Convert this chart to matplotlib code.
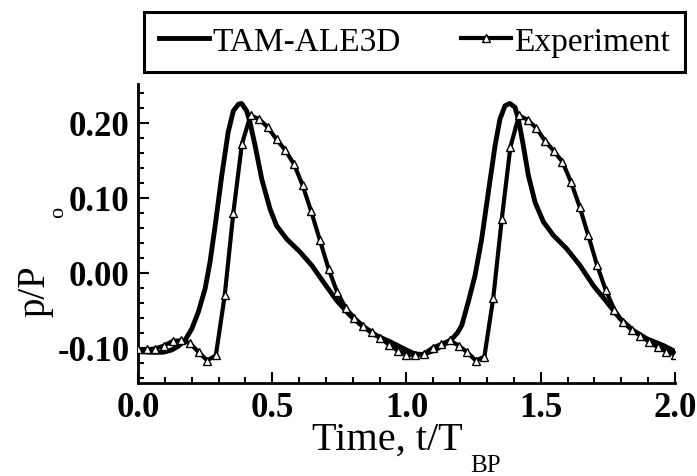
import matplotlib
matplotlib.use('Agg')
import matplotlib.pyplot as plt
import numpy as np

plt.rcParams['font.family'] = ['Liberation Serif', 'DejaVu Serif']

# Experiment (triangles), sampled every ~1/31 of a period
t_exp = [0.000, 0.032, 0.065, 0.097, 0.129, 0.161, 0.194, 0.226, 0.258, 0.290,
         0.323, 0.355, 0.387, 0.419, 0.452, 0.484, 0.516, 0.548, 0.581, 0.613,
         0.645, 0.677, 0.710, 0.742, 0.774, 0.806, 0.839, 0.871, 0.903, 0.935,
         0.968, 1.000, 1.032, 1.065, 1.097, 1.129, 1.161, 1.194, 1.226, 1.258,
         1.290, 1.323, 1.355, 1.387, 1.419, 1.452, 1.484, 1.516, 1.548, 1.581,
         1.613, 1.645, 1.677, 1.710, 1.742, 1.774, 1.806, 1.839, 1.871, 1.903,
         1.935, 1.968, 2.000]
p_exp = [-0.102, -0.102, -0.101, -0.097, -0.091, -0.090, -0.094, -0.106, -0.117, -0.110,
         -0.030, 0.080, 0.172, 0.210, 0.205, 0.194, 0.178, 0.164, 0.145, 0.117,
         0.082, 0.044, 0.005, -0.026, -0.047, -0.060, -0.071, -0.079, -0.087, -0.096,
         -0.104, -0.109, -0.110, -0.108, -0.100, -0.095, -0.090, -0.097, -0.106, -0.117,
         -0.112, -0.034, 0.072, 0.168, 0.210, 0.204, 0.193, 0.176, 0.163, 0.148,
         0.121, 0.088, 0.050, 0.010, -0.023, -0.049, -0.066, -0.076, -0.084, -0.092,
         -0.099, -0.105, -0.109]

# TAM-ALE3D model
t_sim = [0.0, 0.05, 0.094, 0.125, 0.15, 0.175, 0.2, 0.225, 0.25, 0.268,
         0.287, 0.312, 0.336, 0.355, 0.374, 0.386, 0.405, 0.417, 0.436, 0.461,
         0.492, 0.516, 0.554, 0.603, 0.647, 0.690, 0.740, 0.790, 0.839, 0.889,
         0.939, 1.0, 1.03, 1.06, 1.1, 1.14, 1.17, 1.19, 1.206, 1.23,
         1.255, 1.28, 1.305, 1.33, 1.348, 1.367, 1.385, 1.404, 1.417, 1.435,
         1.454, 1.479, 1.51, 1.547, 1.597, 1.646, 1.696, 1.746, 1.795, 1.845,
         1.895, 1.957, 2.0]
p_sim = [-0.105, -0.106, -0.106, -0.103, -0.098, -0.090, -0.075, -0.052, -0.021, 0.014,
         0.062, 0.130, 0.188, 0.216, 0.225, 0.226, 0.216, 0.201, 0.170, 0.125,
         0.085, 0.063, 0.045, 0.028, 0.010, -0.012, -0.037, -0.057, -0.072, -0.084,
         -0.092, -0.103, -0.108, -0.109, -0.104, -0.096, -0.088, -0.080, -0.070, -0.039,
         -0.004, 0.045, 0.108, 0.170, 0.205, 0.223, 0.226, 0.221, 0.205, 0.170,
         0.130, 0.094, 0.068, 0.050, 0.032, 0.010, -0.017, -0.039, -0.061, -0.077,
         -0.088, -0.097, -0.105]

xticks = [0.0, 0.5, 1.0, 1.5, 2.0]
yticks = [-0.10, 0.00, 0.10, 0.20]

fig = plt.figure(figsize=(6.97, 4.77), dpi=100)
ax = fig.add_axes([0.198, 0.195, 0.7704, 0.6268])

ax.plot(t_sim, p_sim, color='black', lw=3.5, label='TAM-ALE3D', zorder=2)
ax.plot(t_exp, p_exp, color='black', lw=3.0, marker='^', ms=6,
        mfc='white', mec='black', mew=1.0, label='Experiment', zorder=3)

ax.set_xlim(0, 2.0)
ax.set_ylim(-0.147, 0.252)
ax.set_xticks(xticks)
ax.set_xticklabels(['%.1f' % v for v in xticks])
ax.set_yticks(yticks)
ax.set_yticklabels(['%.2f' % v for v in yticks])
ax.set_xticks(np.arange(0, 2.01, 0.1), minor=True)
ax.set_yticks(np.arange(-0.14, 0.25, 0.02), minor=True)

for s in ['top', 'right']:
    ax.spines[s].set_visible(False)
for s in ['left', 'bottom']:
    ax.spines[s].set_linewidth(2)

ax.tick_params(which='both', direction='in', width=1.5, top=False, right=False)
ax.tick_params(which='major', length=8, pad=6, labelsize=25)
ax.tick_params(which='minor', length=4)
for lab in ax.get_xticklabels() + ax.get_yticklabels():
    lab.set_fontweight('bold')

# axis titles with offset subscripts, as in the original
fig.text(312 / 697, 1 - 450 / 477, 'Time, t/T', fontsize=29,
         ha='left', va='baseline')
fig.text(470 / 697, 1 - 472 / 477, 'BP', fontsize=18, ha='left', va='baseline')
fig.text(35 / 697, 1 - 291 / 477, 'p/P', fontsize=28, rotation=90,
         ha='center', va='center')
fig.text(59 / 697, 1 - 212 / 477, 'o', fontsize=16, rotation=90,
         ha='center', va='center')

leg = ax.legend(loc='lower left', ncol=2, mode='expand',
                bbox_to_anchor=(144 / 697, 1 - 73 / 477, 541 / 697, 61 / 477),
                bbox_transform=fig.transFigure, fontsize=24, frameon=True,
                fancybox=False, edgecolor='black', framealpha=1,
                handlelength=1.5, handletextpad=0.1, borderpad=0.45,
                borderaxespad=0, numpoints=1)
leg.get_frame().set_linewidth(2.2)

fig.savefig('out.png', dpi=100)
